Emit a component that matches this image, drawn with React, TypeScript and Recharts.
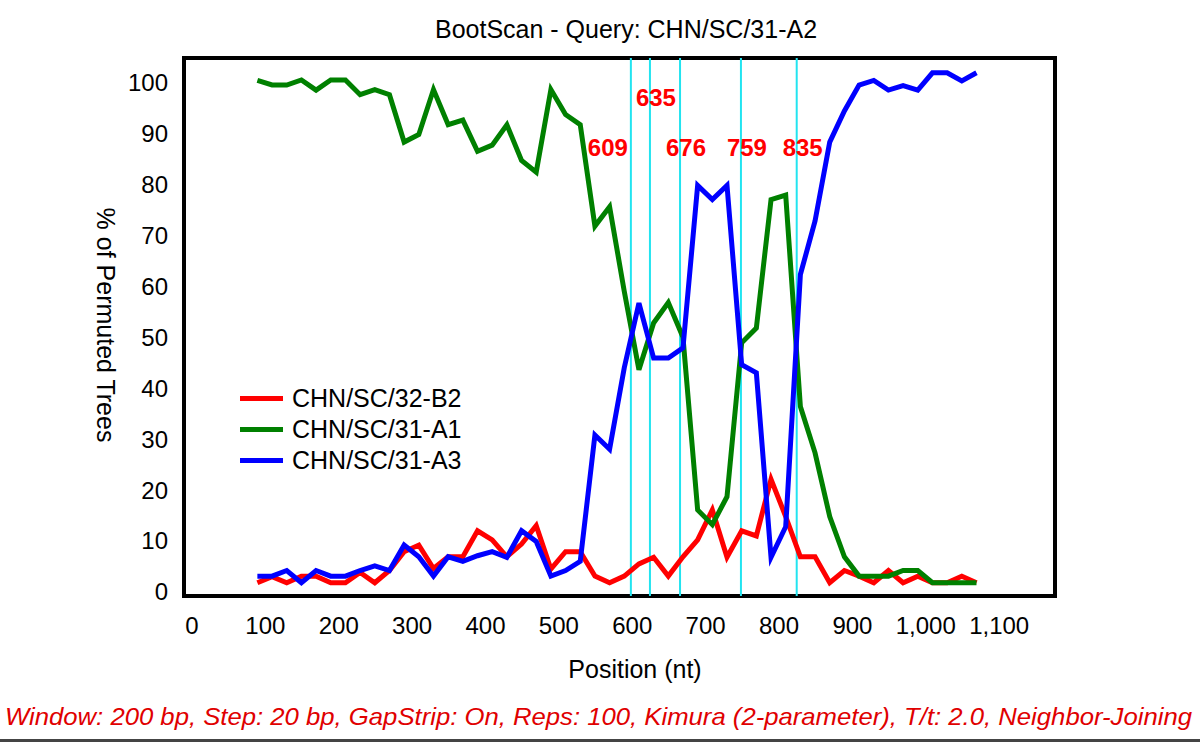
import React from 'react';
import { LineChart, Line, XAxis, YAxis, ReferenceLine, ReferenceArea, Legend } from 'recharts';

// BootScan output: sliding window centres (nt) and % of permuted trees
const positions = [
  100, 120, 140, 160, 180, 200, 220, 240, 260, 280,
  300, 320, 340, 360, 380, 400, 420, 440, 460, 480,
  500, 520, 540, 560, 580, 600, 620, 640, 660, 680,
  700, 720, 740, 760, 780, 800, 820, 840, 860, 880,
  900, 920, 940, 960, 980, 1000, 1020, 1040, 1060, 1080,
];

const b2Values = [
  1.8, 3, 1.8, 3.1, 3.1, 1.8, 1.8, 3.8, 1.8, 4.2,
  7.9, 9.2, 4.6, 6.9, 6.9, 12, 10.2, 6.9, 9.4, 13,
  4.5, 7.9, 7.9, 3.1, 1.8, 3.1, 5.5, 6.8, 3.1, 6.9,
  10.2, 16.1, 6.8, 12, 11, 22.1, 14.8, 6.9, 6.9, 1.8,
  4.2, 3.1, 1.8, 4.2, 1.8, 3.1, 1.8, 1.8, 3.1, 1.8,
];

const a1Values = [
  100.4, 99.5, 99.5, 100.5, 98.5, 100.5, 100.5, 97.6, 98.6, 97.6,
  88.3, 89.8, 98.6, 91.7, 92.6, 86.5, 87.7, 91.7, 84.7, 82.4,
  98.6, 93.7, 91.7, 71.8, 75.6, 59, 43.6, 52.8, 56.8, 50,
  16.1, 13.2, 18.7, 48.9, 51.8, 77, 77.9, 36.4, 27.3, 14.8,
  6.9, 3.1, 3.1, 3.1, 4.2, 4.2, 1.8, 1.8, 1.8, 1.8,
];

const a3Values = [
  3.1, 3.1, 4.2, 1.8, 4.2, 3.1, 3.1, 4.2, 5.1, 4.2,
  9.2, 6.9, 3.1, 6.9, 6, 7.1, 7.9, 6.8, 12, 9.9,
  3.1, 4.2, 6, 30.8, 28, 44, 56.7, 45.9, 45.9, 47.9,
  79.8, 77, 79.8, 44.6, 43, 6.8, 12.8, 62.3, 72.8, 88.3,
  94.4, 99.5, 100.4, 98.5, 99.4, 98.5, 101.9, 101.9, 100.3, 101.9,
];

const seriesNames = ['CHN/SC/32-B2', 'CHN/SC/31-A1', 'CHN/SC/31-A3'];
const breakpoints = [609, 635, 676, 759, 835];
const xTicks = [0, 100, 200, 300, 400, 500, 600, 700, 800, 900, 1000, 1100];
const yTicks = [0, 10, 20, 30, 40, 50, 60, 70, 80, 90, 100];
const xDomain = [0, 1187];
const yDomain = [-0.8, 104.8];

const title = 'BootScan - Query: CHN/SC/31-A2';
const xLabel = 'Position (nt)';
const yLabel = '% of Permuted Trees';
const footer =
  'Window: 200 bp, Step: 20 bp, GapStrip: On, Reps: 100, Kimura (2-parameter), T/t: 2.0, Neighbor-Joining';

const data = positions.map((pos, i) => ({
  pos,
  b2: b2Values[i],
  a1: a1Values[i],
  a3: a3Values[i],
}));

const FONT = '"Liberation Sans", Arial, Helvetica, sans-serif';
const W = 1200;
const H = 742;

const XTick = ({ x, y, payload }: any) => (
  <text x={x + 8} y={y} dy="0.71em" textAnchor="middle" fontSize={24} fontFamily={FONT} fill="#000">
    {Number(payload.value).toLocaleString('en-US')}
  </text>
);

// breakpoint numbers: crowded ones get pushed left / up
const renderBreakLabel = (props: any, i: number) => {
  const vb = props.viewBox || {};
  const value = breakpoints[i];
  const prev = breakpoints[i - 1];
  const next = breakpoints[i + 1];
  const raised = prev !== undefined && value - prev < 30;
  const crowdedRight = next !== undefined && next - value < 30;
  return (
    <text
      x={vb.x + (crowdedRight ? -3 : 6)}
      y={vb.y + (raised ? 48 : 98)}
      textAnchor={crowdedRight ? 'end' : 'middle'}
      fontSize={24}
      fontWeight="bold"
      fontFamily={FONT}
      fill="#f00"
    >
      {value}
    </text>
  );
};

const renderLegend = (props: any) => (
  <div style={{ fontFamily: FONT, fontSize: 25, color: '#000' }}>
    {(props.payload || []).map((entry: any) => (
      <div key={entry.value} style={{ display: 'flex', alignItems: 'center', height: 31 }}>
        <span
          style={{ display: 'inline-block', width: 43, height: 5, background: entry.color, marginRight: 9 }}
        />
        <span>{entry.value}</span>
      </div>
    ))}
  </div>
);

export default function App() {
  return (
    <div style={{ position: 'absolute', left: 0, top: 0, width: W, height: H, background: '#fff' }}>
      <LineChart width={W} height={H} data={data} margin={{ top: 58, right: 145, left: 124, bottom: 106 }}>
        <XAxis
          dataKey="pos"
          type="number"
          domain={xDomain}
          ticks={xTicks}
          axisLine={false}
          tickLine={false}
          tickSize={0}
          tickMargin={21}
          height={40}
          tick={<XTick />}
          interval={0}
        />
        <YAxis
          type="number"
          domain={yDomain}
          ticks={yTicks}
          axisLine={false}
          tickLine={false}
          tickSize={0}
          tickMargin={16}
          width={60}
          interval={0}
          tick={{ fontSize: 24, fill: '#000', fontFamily: FONT }}
        />
        <ReferenceArea
          x1={xDomain[0]}
          x2={xDomain[1]}
          y1={yDomain[0]}
          y2={yDomain[1]}
          fill="none"
          stroke="#000"
          strokeWidth={4}
        />
        {breakpoints.map((bp, i) => (
          <ReferenceLine
            key={bp}
            x={bp}
            stroke="#22e4f0"
            strokeWidth={2}
            label={(p: any) => renderBreakLabel(p, i)}
          />
        ))}
        <Legend
          layout="vertical"
          align="center"
          verticalAlign="middle"
          content={renderLegend}
          itemSorter={(item: any) => seriesNames.indexOf(item.value)}
          wrapperStyle={{ left: 240, top: 383, width: 320 }}
        />
        <Line type="linear" dataKey="b2" name={seriesNames[0]} stroke="#ff0000" strokeWidth={5} dot={false} isAnimationActive={false} />
        <Line type="linear" dataKey="a1" name={seriesNames[1]} stroke="#008000" strokeWidth={5} dot={false} isAnimationActive={false} />
        <Line type="linear" dataKey="a3" name={seriesNames[2]} stroke="#0000ff" strokeWidth={5} dot={false} isAnimationActive={false} />
      </LineChart>
      <svg
        width={W}
        height={H}
        style={{ position: 'absolute', left: 0, top: 0, pointerEvents: 'none' }}
      >
        <text x={626} y={38} textAnchor="middle" fontSize={25} fontFamily={FONT} fill="#000">
          {title}
        </text>
        <text x={635} y={678} textAnchor="middle" fontSize={25} fontFamily={FONT} fill="#000">
          {xLabel}
        </text>
        <text
          transform="translate(106,325) rotate(90)"
          textAnchor="middle"
          dominantBaseline="central"
          fontSize={25}
          fontFamily={FONT}
          fill="#000"
        >
          {yLabel}
        </text>
        <text
          x={5}
          y={725}
          fontSize={24}
          fontStyle="italic"
          fontFamily={FONT}
          fill="#e00000"
          textLength={1187}
          lengthAdjust="spacingAndGlyphs"
        >
          {footer}
        </text>
        <rect x={0} y={739} width={W} height={3} fill="#444" />
      </svg>
    </div>
  );
}
